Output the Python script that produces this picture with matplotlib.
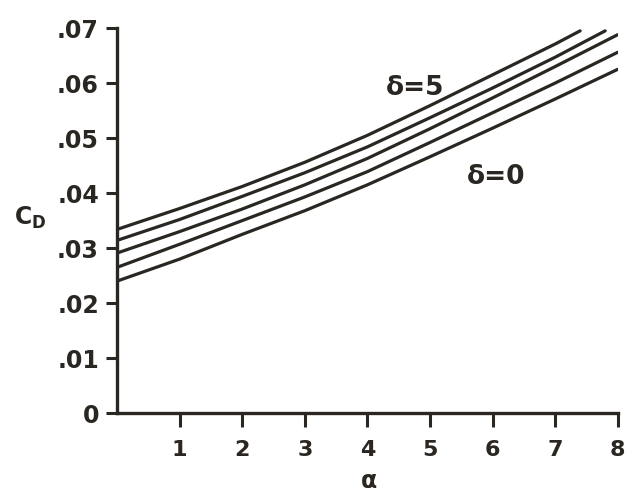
import matplotlib
matplotlib.use("Agg")
import matplotlib.pyplot as plt

# Data (5 curves, delta = 0 (bottom) ... 5 (top))
alpha_pts = [0, 1, 2, 3, 4, 5, 6, 7, 8]
cd_delta0 = [0.0240, 0.0280, 0.0325, 0.0368, 0.0415, 0.0466, 0.0518, 0.0571, 0.0625]
cd_curve2 = [0.0265, 0.0307, 0.0350, 0.0393, 0.0439, 0.0492, 0.0546, 0.0600, 0.0656]
cd_curve3 = [0.0291, 0.0330, 0.0371, 0.0415, 0.0463, 0.0517, 0.0573, 0.0630, 0.0688]
alpha_c4 = [0, 1, 2, 3, 4, 5, 6, 7, 7.8]
cd_curve4 = [0.0314, 0.0352, 0.0394, 0.0437, 0.0484, 0.0537, 0.0591, 0.0647, 0.0695]
alpha_c5 = [0, 1, 2, 3, 4, 5, 6, 7, 7.4]
cd_delta5 = [0.0334, 0.0372, 0.0412, 0.0456, 0.0505, 0.0559, 0.0615, 0.0671, 0.0695]

y_ticks = [0, 0.01, 0.02, 0.03, 0.04, 0.05, 0.06, 0.07]
y_ticklabels = ["0", ".01", ".02", ".03", ".04", ".05", ".06", ".07"]
x_ticks = [1, 2, 3, 4, 5, 6, 7, 8]
x_ticklabels = ["1", "2", "3", "4", "5", "6", "7", "8"]

ink = "#2a2622"
fig = plt.figure(figsize=(6.29, 4.93), dpi=100)
ax = fig.add_axes([0.186, 0.162, 0.796, 0.781])

series = [(alpha_pts, cd_delta0), (alpha_pts, cd_curve2), (alpha_pts, cd_curve3),
          (alpha_c4, cd_curve4), (alpha_c5, cd_delta5)]
for xs, ys in series:
    ax.plot(xs, ys, color=ink, lw=2.3, solid_capstyle="round", solid_joinstyle="round")

ax.set_xlim(0, 8)
ax.set_ylim(0, 0.07)
for s in ("top", "right"):
    ax.spines[s].set_visible(False)
for s in ("left", "bottom"):
    ax.spines[s].set_color(ink)
    ax.spines[s].set_linewidth(2.4)

ax.set_yticks(y_ticks)
ax.set_yticklabels(y_ticklabels, fontsize=17, fontweight="bold", color=ink)
ax.set_xticks(x_ticks)
ax.set_xticklabels(x_ticklabels, fontsize=16, fontweight="bold", color=ink)
ax.tick_params(axis="y", direction="out", length=8, width=2.2, color=ink, pad=5)
ax.tick_params(axis="x", direction="out", length=10, width=2.2, color=ink, pad=9)

ax.text(4.77, 0.0592, "δ=5", fontsize=19, fontweight="bold", color=ink,
        ha="center", va="center")
ax.text(6.05, 0.0430, "δ=0", fontsize=19, fontweight="bold", color=ink,
        ha="center", va="center")

fig.text(30 / 629, 1 - 218 / 493, r"C$_\mathregular{D}$", fontsize=17, fontweight="bold",
         color=ink, ha="center", va="center")
fig.text(369 / 629, 1 - 481 / 493, "α", fontsize=17, fontweight="bold",
         color=ink, ha="center", va="center")

fig.savefig("out.png", dpi=100, facecolor="white")
